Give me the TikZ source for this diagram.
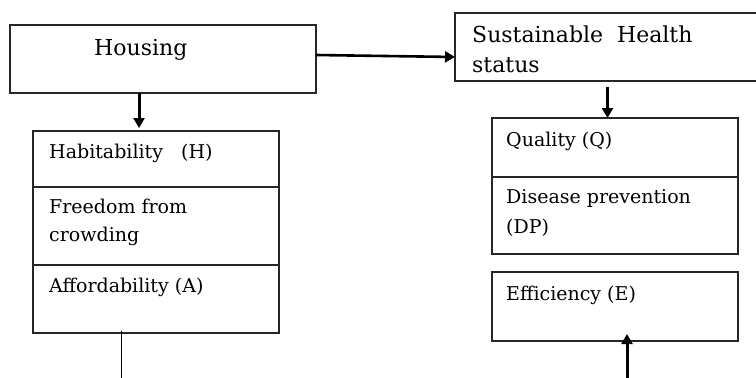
\documentclass[tikz,border=0pt]{standalone}
\usepackage{fontspec}
\setmainfont{DejaVu Serif}
\usetikzlibrary{arrows.meta,calc}
\begin{document}
\begin{tikzpicture}[x=1pt,y=-1pt,
  box/.style={draw=black!85, line width=1.2pt, rectangle, inner sep=0pt, outer sep=0pt, anchor=north west},
  txt/.style={anchor=base west, inner sep=0pt, font=\fontsize{19}{22}\selectfont},
  bigtxt/.style={anchor=base west, inner sep=0pt, font=\fontsize{22}{26}\selectfont},
  varr/.style={line width=3pt, -{Triangle[length=10pt,width=11pt]}},
  harr/.style={line width=2.6pt, -{Triangle[length=10pt,width=11pt]}},
  thin/.style={line width=0.9pt},
]
\useasboundingbox (0,0) rectangle (756,378);
% top boxes
\node[box, minimum width=306pt, minimum height=68pt] (housing) at (10,25) {};
\node[box, minimum width=305pt, minimum height=68pt] (shs) at (455,13) {};
% left stack
\node[box, minimum width=246pt, minimum height=56pt] (hab) at (33,131) {};
\node[box, minimum width=246pt, minimum height=78pt] (free) at (33,187) {};
\node[box, minimum width=246pt, minimum height=68pt] (aff) at (33,265) {};
% right stack
\node[box, minimum width=246pt, minimum height=59pt] (qual) at (492,118) {};
\node[box, minimum width=246pt, minimum height=77pt] (dp) at (492,177) {};
\node[box, minimum width=246pt, minimum height=69pt] (eff) at (492,272) {};
% texts
\node[bigtxt] (thous) at (94,55) {Housing};
\node[bigtxt] (tshs1) at (472,42) {Sustainable\ \ Health};
\node[bigtxt] (tshs2) at (472,72) {status};
\node[txt] (thab) at (49,158) {Habitability\ \ \ (H)};
\node[txt] (tfree1) at (49,213) {Freedom from};
\node[txt] (tfree2) at (49,241) {crowding};
\node[txt] (taff) at (49,292) {Affordability (A)};
\node[txt] (tqual) at (506,146) {Quality (Q)};
\node[txt] (tdp1) at (506,203) {Disease prevention};
\node[txt] (tdp2) at (506,233) {(DP)};
\node[txt] (teff) at (506,300) {Efficiency (E)};
% connectors
\draw[harr] ([yshift=4pt]housing.east) -- ([yshift=-10pt]shs.west);
\draw[varr] ([xshift=-24pt]housing.south) -- ([xshift=-24pt,yshift=3pt]housing.south |- hab.north);
\draw[varr] ([yshift=-6pt]shs.south) -- (shs.south |- qual.north);
\coordinate (ebot) at (627,378);
\draw[varr] (ebot) -- ([yshift=7pt]ebot |- eff.south);
\coordinate (abot) at (121,378);
\draw[thin] ([yshift=2pt]aff.south -| abot) -- (abot);
\end{tikzpicture}
\end{document}
